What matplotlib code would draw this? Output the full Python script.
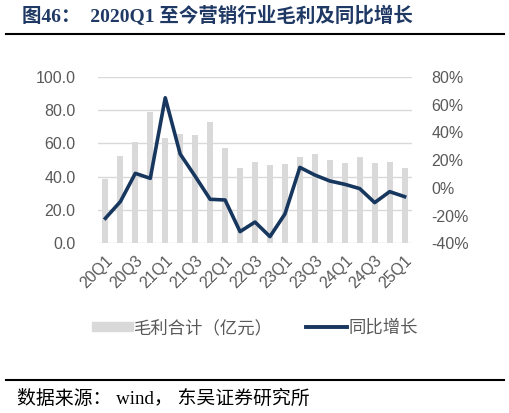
import matplotlib
matplotlib.use("Agg")
import matplotlib.pyplot as plt
from matplotlib.patches import Patch
from matplotlib.lines import Line2D
import numpy as np

plt.rcParams['font.family'] = ['Liberation Sans', 'Noto Sans CJK SC']

quarters = ['20Q1', '20Q2', '20Q3', '20Q4', '21Q1', '21Q2', '21Q3', '21Q4',
            '22Q1', '22Q2', '22Q3', '22Q4', '23Q1', '23Q2', '23Q3', '23Q4',
            '24Q1', '24Q2', '24Q3', '24Q4', '25Q1']
# 毛利合计（亿元）
gross_profit = [38.4, 52.2, 60.8, 79.0, 63.2, 65.6, 65.2, 72.6, 57.4, 45.4, 49.0,
                47.0, 47.4, 52.0, 53.6, 49.8, 48.2, 51.6, 48.2, 48.6, 45.4]
# 同比增长 (%)
yoy = [-22.0, -10.0, 10.4, 6.8, 64.9, 24.3, 8.3, -8.3, -8.8, -31.6, -24.7,
       -35.2, -18.9, 14.7, 9.2, 4.9, 2.5, -0.6, -10.7, -2.8, -6.4]

navy = '#17375e'
bar_c = '#d9d9d9'
grey = '#595959'

fig = plt.figure(figsize=(5.1, 4.13), dpi=100)
ax = fig.add_axes([0.192, 0.411, 0.616, 0.403])
x = np.arange(len(quarters))

ax.bar(x, gross_profit, width=0.4, color=bar_c, zorder=2)
ax.set_ylim(0, 100)
ax.set_yticks(np.arange(0, 101, 20))
ax.set_yticklabels(['%.1f' % v for v in np.arange(0, 101, 20)])
ax.yaxis.grid(True, color='#d9d9d9', linewidth=1)
ax.set_axisbelow(True)
ax.set_xlim(-0.5, len(quarters) - 0.5)
ax.set_xticks(x[::2])
ax.set_xticklabels(quarters[::2], rotation=45, ha='right', rotation_mode='anchor')
for s in ax.spines.values():
    s.set_visible(False)
ax.tick_params(axis='both', length=0, colors=grey, labelsize=11.5)
ax.tick_params(axis='y', pad=16)
ax.tick_params(axis='x', pad=7)

ax2 = ax.twinx()
ax2.plot(x, yoy, color=navy, linewidth=2.6, zorder=3)
ax2.set_ylim(-40, 80)
ax2.set_yticks(np.arange(-40, 81, 20))
ax2.set_yticklabels(['%d%%' % v for v in np.arange(-40, 81, 20)])
for s in ax2.spines.values():
    s.set_visible(False)
ax2.tick_params(axis='y', length=0, colors=grey, labelsize=11.5, pad=14)

handles = [Patch(color=bar_c), Line2D([0], [0], color=navy, linewidth=2.8)]
fig.legend(handles, ['毛利合计（亿元）', '同比增长'], loc='center',
           bbox_to_anchor=(0.5, 0.206), ncol=2, frameon=False,
           labelcolor=grey, handlelength=2.35, handleheight=0.45,
           handletextpad=0.1, columnspacing=1.9,
           prop={'family': ['Noto Sans CJK SC'], 'size': 12.5})

fig.text(0.043, 1 - 16 / 413, '图46：  2020Q1 至今营销行业毛利及同比增长', fontsize=14,
         fontweight='bold', color='#1f3864', va='center',
         family=['Liberation Serif', 'Noto Sans CJK SC'])
fig.add_artist(Line2D([6 / 510, 504 / 510], [1 - 34 / 413, 1 - 34 / 413],
                      color='black', linewidth=1.5))
fig.add_artist(Line2D([6 / 510, 504 / 510], [1 - 380 / 413, 1 - 380 / 413],
                      color='black', linewidth=1.5))
fig.text(0.033, 1 - 399 / 413, '数据来源： wind， 东吴证券研究所', fontsize=13.6,
         color='black', va='center', family=['Liberation Serif', 'Noto Sans CJK SC'])

fig.savefig('out.png', dpi=100)
